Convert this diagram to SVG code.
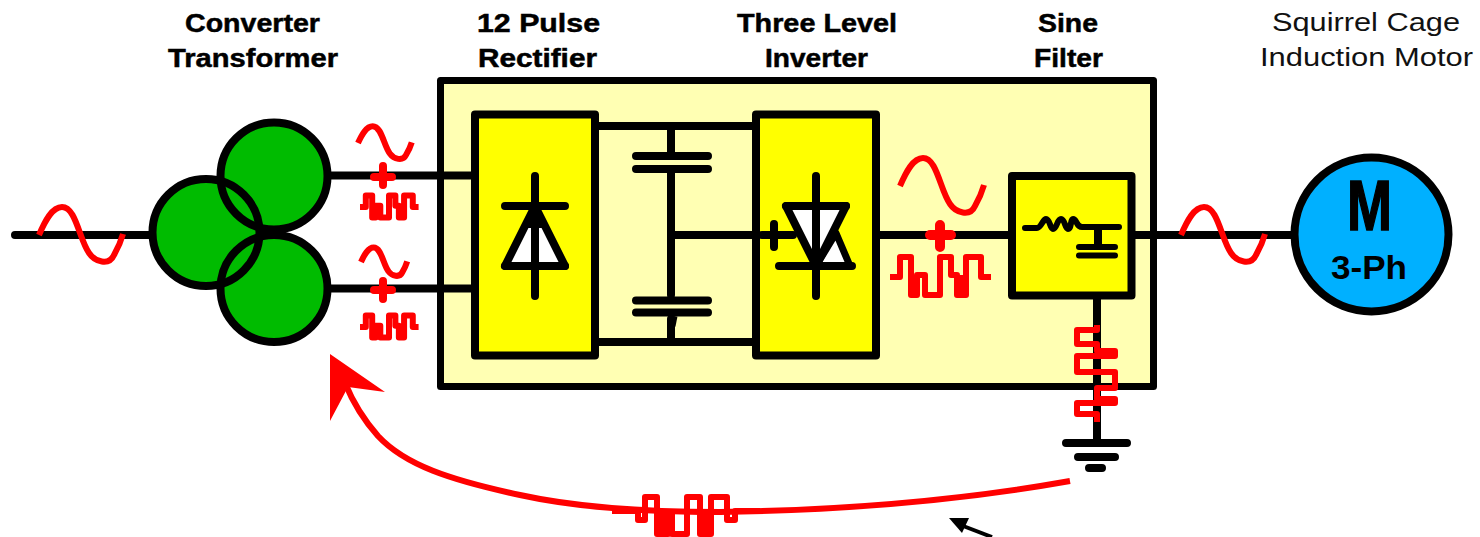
<svg xmlns="http://www.w3.org/2000/svg" width="1480" height="537" viewBox="0 0 1480 537">
<style>
.k{fill:none;stroke:#000;stroke-width:8;stroke-linecap:round;stroke-linejoin:round}
.t{fill:none;stroke:#000;stroke-width:6;stroke-linecap:round;stroke-linejoin:round}
.r{fill:none;stroke:#f00;stroke-width:6;stroke-linejoin:round;vector-effect:non-scaling-stroke}
.rb{fill:none;stroke:#f00;stroke-width:8;stroke-linecap:round}
.y{fill:#ff0;stroke:#000;stroke-width:8;stroke-linejoin:round}
.g{fill:#00bb00}
.o{fill:none;stroke:#000;stroke-width:8}
.w{fill:#fff;stroke:#000;stroke-width:8;stroke-linejoin:round}
.l{font-family:"Liberation Sans",Arial,sans-serif;font-size:26px;font-weight:bold;fill:#000;stroke:#000;stroke-width:.5}
.m{font-family:"Liberation Sans",Arial,sans-serif;font-size:26px;fill:#111}
</style>
<defs>
<path id="sine" class="r" d="M0 0C6-14 13-28 23-28C37-28 40 4 50 18C56 27 70 31 75 20C79 13 82 6 84-1"/>
<path id="harm" class="r" d="M0 0H10V-20H21V18H27V-2H35V18H50V-20H61V-2H67V18H76V-20H91V0H101M24 -2V18M71 -2V18"/>
</defs>
<rect id="box" x="440.500" y="80.500" width="713" height="306" fill="#ffffb3" stroke="#000" stroke-width="7" stroke-linejoin="round"/>
<g id="connectors">
<path class="k" d="M15 235H152M330 175.500H476M330 288.500H476M596 126H756M596 342H756M671 126V156M671 169V295M671 319V342M671 235H764M878 235H1012M1132 235H1292M1097 256V443"/>
<path d="M674 316L672 326" fill="none" stroke="#000" stroke-width="7"/>
</g>
<g id="transformer">
<circle class="g" cx="206" cy="232.500" r="54"/>
<circle class="g" cx="274" cy="176" r="54"/>
<circle class="g" cx="274" cy="288.500" r="54"/>
<circle class="o" cx="206" cy="232.500" r="53.500"/>
<circle class="o" cx="274" cy="176" r="53.500"/>
<circle class="o" cx="274" cy="288.500" r="53.500"/>
</g>
<g id="rectifier">
<rect class="y" x="475" y="114.500" width="120" height="241"/>
<path class="w" d="M535 206L505 266H565Z"/>
<path class="k" d="M535 176V296M505 206H565M505 266H565"/>
<path d="M535 206L528 225H542Z" fill="#000" stroke="#000" stroke-width="6"/>
</g>
<g id="dc-caps">
<path class="k" d="M636 156H708M636 169H708M636 300.500H708M636 312.500H708"/>
</g>
<g id="inverter">
<rect class="y" x="756" y="114.500" width="120" height="241"/>
<path d="M836 233L850 266H816Z" fill="#fff" stroke="#000" stroke-width="7" stroke-linejoin="round"/>
<path class="w" d="M786 206H846L816 266Z"/>
<path class="k" d="M816 176V296M786 206H846M779 266H852M774 224V247M762 235H793"/>
</g>
<g id="filter">
<rect class="y" x="1012" y="176" width="119.500" height="119.500"/>
<path class="t" d="M1025 228H1037C1041 228 1043 219 1046 219C1050 219 1050 229 1053 229C1057 229 1057 219 1061 219C1065 219 1065 229 1068 229C1072 229 1070 219 1073 219C1077 219 1076 227 1082 227H1119"/>
<path class="k" d="M1098 228V246"/>
<path class="t" d="M1079 247H1115M1079 255.500H1115"/>
</g>
<g id="ground">
<path class="k" d="M1066 443H1127M1078 457H1115M1089 468H1102"/>
</g>
<g id="motor">
<circle cx="1371.500" cy="234.500" r="77" fill="#00b0ff" stroke="#000" stroke-width="8"/>
<text x="1347" y="230" font-family="Liberation Sans,Arial,sans-serif" font-size="70" font-weight="bold" fill="#000" stroke="#000" stroke-width="1.500" textLength="45" lengthAdjust="spacingAndGlyphs">M</text>
<text x="1331" y="279" font-family="Liberation Sans,Arial,sans-serif" font-size="33" font-weight="bold" fill="#000" textLength="76" lengthAdjust="spacingAndGlyphs">3-Ph</text>
</g>
<g id="waveforms">
<use href="#sine" transform="translate(39 235)"/>
<use href="#sine" transform="translate(1181 235)"/>
<use href="#sine" transform="translate(358 143) scale(.64 .6)"/>
<use href="#sine" transform="translate(361 262) scale(.55 .52)"/>
<use href="#sine" transform="translate(900 186)"/>
<path class="rb" d="M374 177H392M383 166V185M374 290H392M383 281V299"/>
<path class="rb" d="M930 235H951M940 225V247" style="stroke-width:10"/>
<use href="#harm" transform="translate(360 207) scale(.58)"/>
<use href="#harm" transform="translate(360 327) scale(.58)"/>
<use href="#harm" transform="translate(890 277)"/>
<path class="r" d="M1097 325V330H1077V344H1097V351H1115V356H1077V372H1115V388H1097V399H1115V403H1077V414H1097V422"/>
</g>
<g id="harmonic-path">
<path d="M1070 481C980 497 860 510 720 512C640 512 570 506 520 495C450 480 405 465 378 436C362 418 352 400 345 383" fill="none" stroke="#f00" stroke-width="6"/>
<path d="M330 354L385 392L348 387L330 421Z" fill="#f00"/>
<path class="r" d="M612 511H638V520H645V497H657V534H668V512H672V534H687V497H700V534H711V497H727V520H735V511H760M663 512V534M705 512V534"/>
</g>
<g id="pointer">
<path d="M992 537L958 524" stroke="#000" stroke-width="4" fill="none"/>
<path d="M949 518L969 518L962 533Z" fill="#000"/>
</g>
<g id="labels">
<text class="l" x="185" y="32" textLength="135" lengthAdjust="spacingAndGlyphs">Converter</text>
<text class="l" x="168" y="67" textLength="170" lengthAdjust="spacingAndGlyphs">Transformer</text>
<text class="l" x="477" y="32" textLength="123" lengthAdjust="spacingAndGlyphs">12 Pulse</text>
<text class="l" x="478" y="67" textLength="119" lengthAdjust="spacingAndGlyphs">Rectifier</text>
<text class="l" x="737" y="32" textLength="160" lengthAdjust="spacingAndGlyphs">Three Level</text>
<text class="l" x="765" y="67" textLength="103" lengthAdjust="spacingAndGlyphs">Inverter</text>
<text class="l" x="1038" y="32" textLength="60" lengthAdjust="spacingAndGlyphs">Sine</text>
<text class="l" x="1034" y="67" textLength="69" lengthAdjust="spacingAndGlyphs">Filter</text>
<text class="m" x="1272" y="31" textLength="188" lengthAdjust="spacingAndGlyphs">Squirrel Cage</text>
<text class="m" x="1260" y="66" textLength="213" lengthAdjust="spacingAndGlyphs">Induction Motor</text>
</g>
</svg>
